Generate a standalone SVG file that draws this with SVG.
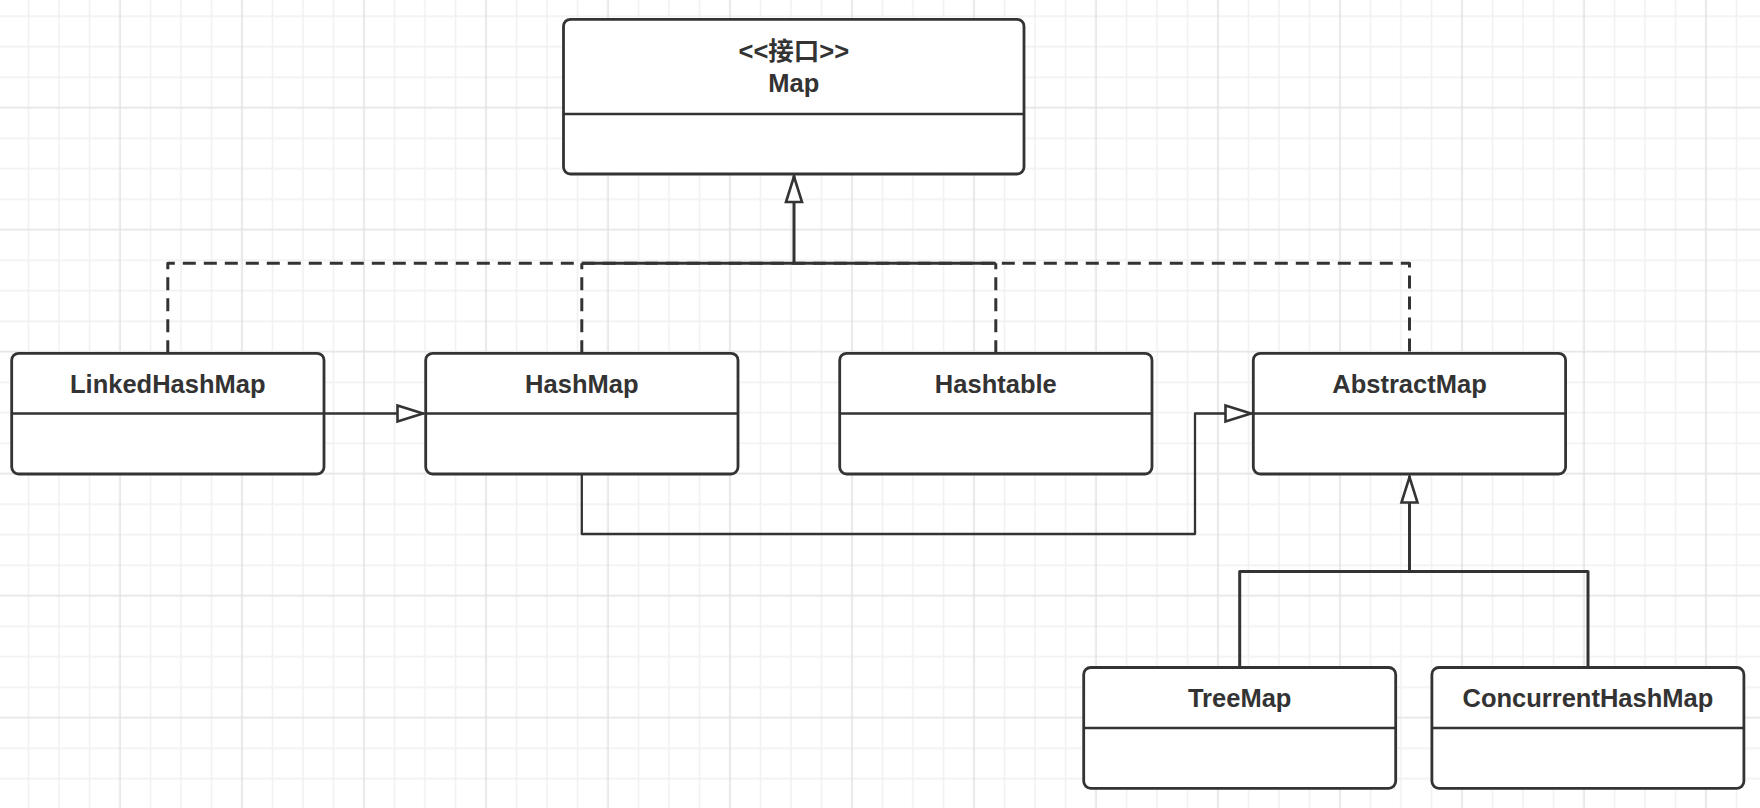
<svg xmlns="http://www.w3.org/2000/svg" width="1760" height="808" viewBox="0 0 1760 808">
<defs>
<pattern id="grid" patternUnits="userSpaceOnUse" x="-78.25" y="-90.55" width="122" height="122">
<path d="M15.25,0V122M45.75,0V122M106.75,0V122M0,15.25H122M0,45.75H122M0,106.75H122" stroke="#f0f0f0" stroke-width="1.4" fill="none"/>
<path d="M76.25,0V122M0,76.25H122" stroke="#e2e2e2" stroke-width="1.6" fill="none"/>
</pattern>
<marker id="tri" markerUnits="userSpaceOnUse" viewBox="0 0 28 18" refX="28" refY="9" markerWidth="28" markerHeight="18" orient="auto" overflow="visible">
<path d="M1.5,1 L27,9 L1.5,17 Z" fill="#fff" stroke="#333" stroke-width="2.6" stroke-linejoin="miter"/>
</marker>
</defs>
<style>
.box{fill:#fff;stroke:#333;stroke-width:2.8}
.div{stroke:#333;stroke-width:2.6;fill:none}
.t{font-family:"Liberation Sans","Noto Sans CJK SC",Arial,sans-serif;font-weight:bold;font-size:25.5px;fill:#333;text-anchor:middle}
.c{fill:none;stroke:#333;stroke-linejoin:round}
.dash{stroke-width:3;stroke-dasharray:13 8}
.solid{stroke-width:3}
.thin{stroke-width:2.3}
</style>
<rect width="1760" height="808" fill="#fff"/>
<rect width="1760" height="808" fill="url(#grid)"/>

<g id="connectors">
<path class="c dash" d="M167.8,353.3V263.3H1409.5V353.3"/>
<path class="c dash" d="M581.8,353.3V263.3"/>
<path class="c dash" d="M995.8,353.3V263.3"/>
<path class="c solid" d="M581.8,263.3H995.8"/>
<path class="c solid" d="M794,263.3V175.5" marker-end="url(#tri)"/>
<path class="c thin" d="M324,413.5H424" marker-end="url(#tri)"/>
<path class="c thin" d="M581.8,474V534H1195V413.5H1252" marker-end="url(#tri)"/>
<path class="c solid" d="M1239.7,667.5V571.5H1588V667.5"/>
<path class="c solid" d="M1409.5,571.5V476" marker-end="url(#tri)"/>
</g>

<g id="Map">
<rect class="box" x="563.5" y="19.3" width="460.5" height="154.7" rx="7"/>
<path class="div" d="M563.5,114H1024"/>
<text class="t" x="793.8" y="59.5">&lt;&lt;接口&gt;&gt;</text>
<text class="t" x="793.8" y="92">Map</text>
</g>

<g id="LinkedHashMap">
<rect class="box" x="11.7" y="353.3" width="312.3" height="120.7" rx="7"/>
<path class="div" d="M11.7,413.5H324"/>
<text class="t" x="167.8" y="392.5">LinkedHashMap</text>
</g>

<g id="HashMap">
<rect class="box" x="425.7" y="353.3" width="312.3" height="120.7" rx="7"/>
<path class="div" d="M425.7,413.5H738"/>
<text class="t" x="581.8" y="392.5">HashMap</text>
</g>

<g id="Hashtable">
<rect class="box" x="839.7" y="353.3" width="312.3" height="120.7" rx="7"/>
<path class="div" d="M839.7,413.5H1152"/>
<text class="t" x="995.8" y="392.5">Hashtable</text>
</g>

<g id="AbstractMap">
<rect class="box" x="1253.3" y="353.3" width="312.3" height="120.7" rx="7"/>
<path class="div" d="M1253.3,413.5H1565.6"/>
<text class="t" x="1409.5" y="392.5">AbstractMap</text>
</g>

<g id="TreeMap">
<rect class="box" x="1083.7" y="667.5" width="312" height="120.8" rx="7"/>
<path class="div" d="M1083.7,728H1395.7"/>
<text class="t" x="1239.7" y="706.8">TreeMap</text>
</g>

<g id="ConcurrentHashMap">
<rect class="box" x="1431.9" y="667.5" width="312" height="120.8" rx="7"/>
<path class="div" d="M1431.9,728H1743.9"/>
<text class="t" x="1587.9" y="706.8">ConcurrentHashMap</text>
</g>
</svg>
